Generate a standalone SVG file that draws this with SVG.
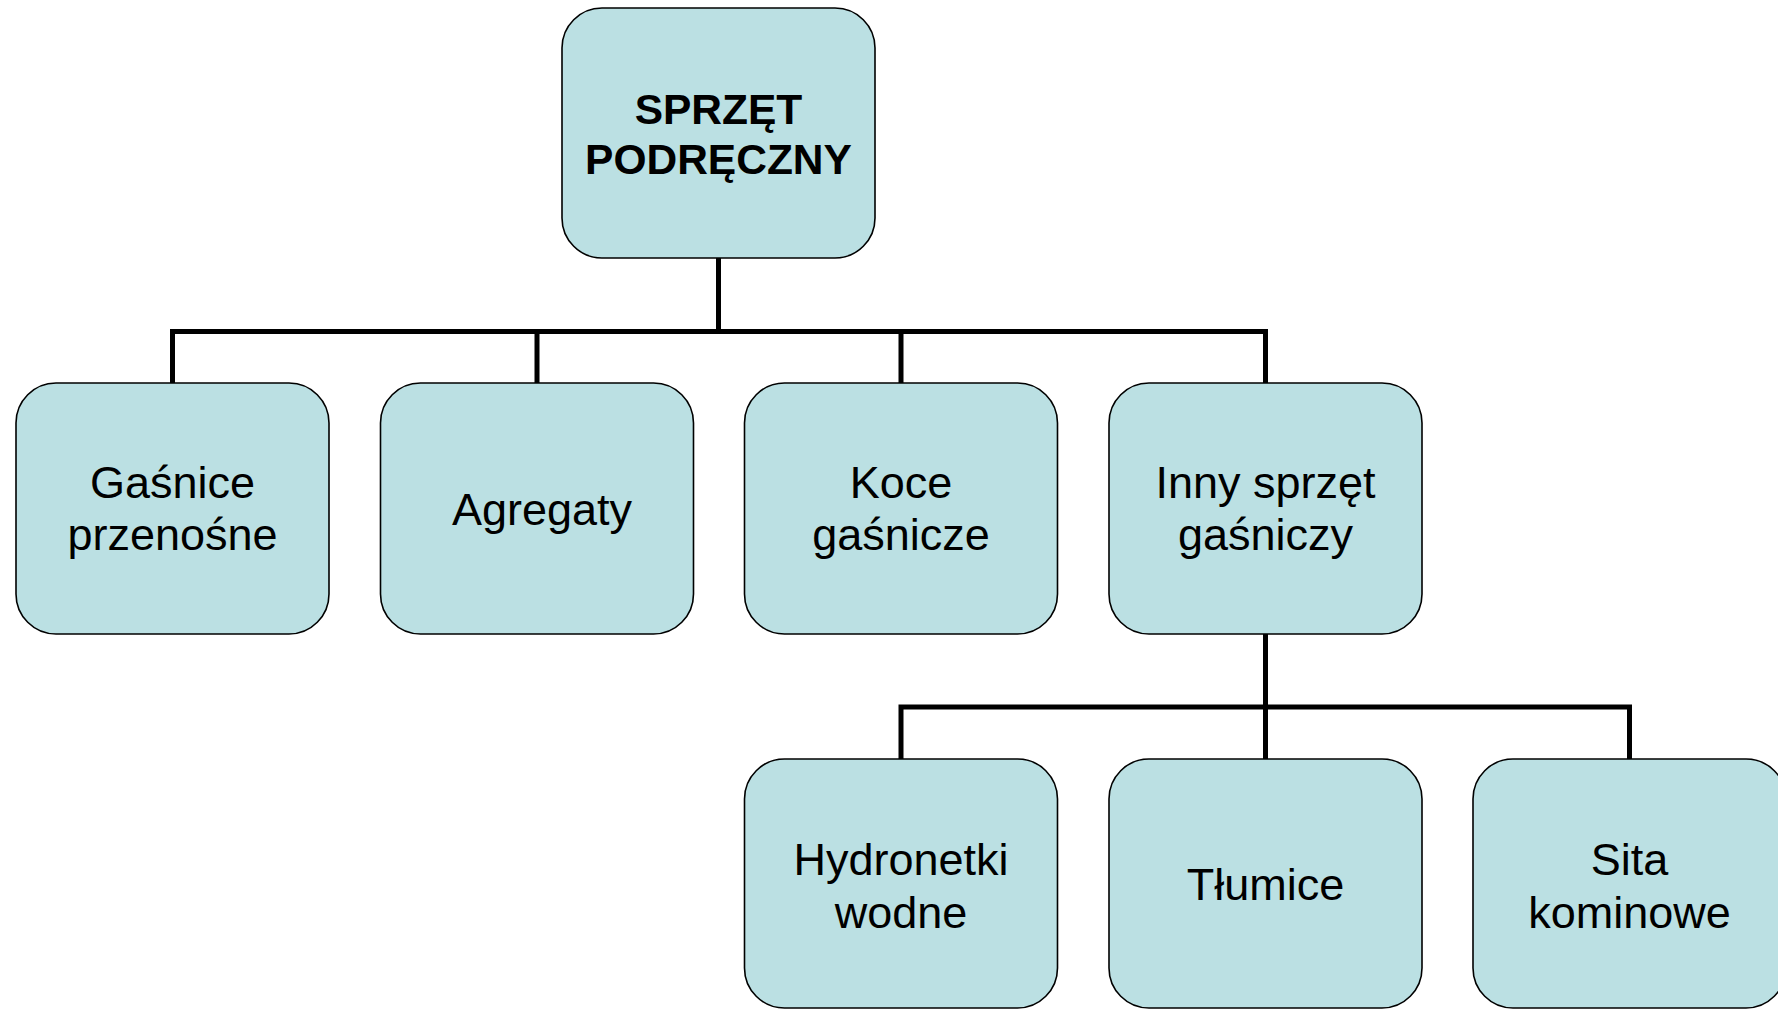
<svg xmlns="http://www.w3.org/2000/svg" width="1778" height="1009" viewBox="0 0 1778 1009">
<style>
.box{fill:#BBE0E3;stroke:#000;stroke-width:1.6}
.t{font-family:"Liberation Sans",Arial,sans-serif;font-size:45px;fill:#000;text-anchor:middle}
.b{font-family:"Liberation Sans",Arial,sans-serif;font-size:42.5px;font-weight:bold;fill:#000;text-anchor:middle}
.c{fill:none;stroke:#000;stroke-width:5;stroke-linecap:square;stroke-linejoin:miter}
</style>
<rect width="1778" height="1009" fill="#fff"/>
<g id="connectors">
<path class="c" d="M718.5 259 V331.5 M172.5 383 V331.5 H1265.5 V383 M537 331.5 V383 M901 331.5 V383"/>
<path class="c" d="M1265.5 634 V759 M901 759 V707 H1629.5 V759"/>
</g>
<g id="n0"><rect class="box" x="562" y="8" width="313" height="250" rx="40"/>
<text class="b" x="718.5" y="124">SPRZĘT</text><text class="b" x="718.5" y="174">PODRĘCZNY</text></g>
<g id="n1"><rect class="box" x="16" y="383" width="313" height="251" rx="40"/>
<text class="t" x="172.5" y="498">Gaśnice</text><text class="t" x="172.5" y="550">przenośne</text></g>
<g id="n2"><rect class="box" x="380.5" y="383" width="313" height="251" rx="40"/>
<text class="t" x="542" y="525">Agregaty</text></g>
<g id="n3"><rect class="box" x="744.5" y="383" width="313" height="251" rx="40"/>
<text class="t" x="901" y="498">Koce</text><text class="t" x="901" y="550">gaśnicze</text></g>
<g id="n4"><rect class="box" x="1109" y="383" width="313" height="251" rx="40"/>
<text class="t" x="1265.5" y="498">Inny sprzęt</text><text class="t" x="1265.5" y="550">gaśniczy</text></g>
<g id="n5"><rect class="box" x="744.5" y="759" width="313" height="249" rx="40"/>
<text class="t" x="901" y="875">Hydronetki</text><text class="t" x="901" y="928">wodne</text></g>
<g id="n6"><rect class="box" x="1109" y="759" width="313" height="249" rx="40"/>
<text class="t" x="1265.5" y="900">Tłumice</text></g>
<g id="n7"><rect class="box" x="1473" y="759" width="313" height="249" rx="40"/>
<text class="t" x="1629.5" y="875">Sita</text><text class="t" x="1629.5" y="928">kominowe</text></g>
</svg>
